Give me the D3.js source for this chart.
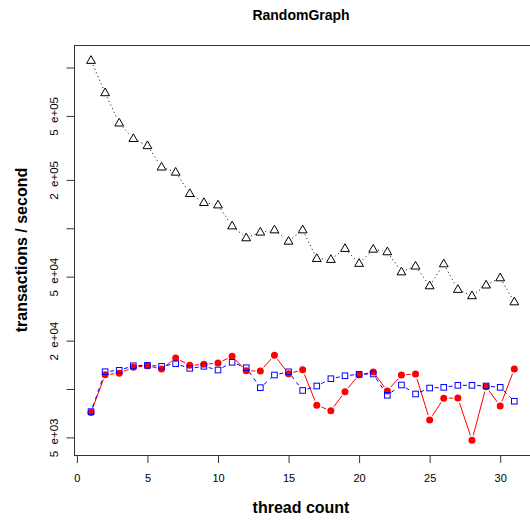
<!DOCTYPE html>
<html>
<head>
<meta charset="utf-8">
<script src="https://cdn.jsdelivr.net/npm/d3@7"></script>
<style>
  body { margin: 0; background: #fff; }
  text { font-family: "Liberation Sans", Arial, Helvetica, sans-serif; }
</style>
</head>
<body>
<div id="container"></div>
<script>
// thread counts and the three series (transactions / second)
const threads = d3.range(1, 32);
const seriesTri = [1106000, 696000, 451000, 361000, 326000, 240000, 223000, 164300, 144400, 139500,
  103300, 87100, 94500, 97600, 83000, 97600, 64800, 63900, 74800, 60400,
  74000, 71300, 53500, 58100, 43800, 60000, 41600, 38000, 44300, 49100, 34800];
const seriesRed = [7130, 12270, 12520, 13640, 13950, 13310, 15580, 14030, 14230, 14500,
  15970, 12990, 12930, 16200, 12450, 13160, 7920, 7330, 9620, 12270,
  12750, 9720, 12220, 12400, 6420, 8760, 8790, 4800, 10330, 7840, 13310];
const seriesBlue = [7230, 12810, 13070, 13950, 14030, 13840, 14360, 13450, 13840, 13120,
  14650, 13560, 10190, 12220, 12790, 9790, 10440, 11590, 12090, 12340,
  12400, 9140, 10590, 9310, 10140, 10240, 10540, 10540, 10440, 10240, 8390];

const xTicks = [0, 5, 10, 15, 20, 25, 30];
const yTicks = [5e3, 1e4, 2e4, 5e4, 1e5, 2e5, 5e5, 1e6];
const yLabels = {5e3: "5  e+03", 2e4: "2  e+04", 5e4: "5  e+04", 2e5: "2  e+05", 5e5: "5  e+05"};

const W = 530, H = 523;
const box = {left: 74.5, top: 45.5, right: 532, bottom: 455.5};

const svg = d3.select("#container")
  .append("svg")
    .attr("width", W)
    .attr("height", H);

const x = d3.scaleLinear().domain([0, 30]).range([76.9, 500.2]);
const y = d3.scaleLog().domain([1e4, 1e6]).range([389, 67.5]);

// plot box
svg.append("rect")
  .attr("x", box.left).attr("y", box.top)
  .attr("width", box.right - box.left).attr("height", box.bottom - box.top)
  .attr("fill", "none").attr("stroke", "#333");

// x axis
const xAxis = svg.append("g")
  .attr("transform", `translate(0,${box.bottom})`)
  .call(d3.axisBottom(x).tickValues(xTicks).tickSize(7.5).tickPadding(11).tickFormat(d3.format("d")));
xAxis.select(".domain").remove();
xAxis.selectAll("line").attr("stroke", "#333");
xAxis.selectAll("text").style("font-size", "11px").attr("fill", "#000");

// y axis
const yAxis = svg.append("g")
  .attr("transform", `translate(${box.left},0)`)
  .call(d3.axisLeft(y).tickValues(yTicks).tickSize(8).tickFormat(d => yLabels[d] || ""));
yAxis.select(".domain").remove();
yAxis.selectAll("line").attr("stroke", "#333");
yAxis.selectAll("text")
  .style("font-size", "11.5px")
  .style("white-space", "pre")
  .attr("xml:space", "preserve")
  .attr("fill", "#000")
  .attr("x", null).attr("dy", null)
  .attr("text-anchor", "middle")
  .attr("transform", "translate(-17,0) rotate(-90)");

// titles
svg.append("text")
  .attr("x", 301).attr("y", 20)
  .attr("text-anchor", "middle")
  .style("font-size", "14px").style("font-weight", "bold")
  .text("RandomGraph");

svg.append("text")
  .attr("x", 301).attr("y", 513)
  .attr("text-anchor", "middle")
  .style("font-size", "16px").style("font-weight", "bold")
  .text("thread count");

svg.append("text")
  .attr("transform", "translate(27,250) rotate(-90)")
  .attr("text-anchor", "middle")
  .style("font-size", "16px").style("font-weight", "bold")
  .text("transactions / second");

// lines with gaps around points (like type = "b")
function gappedLines(vals, color, dash) {
  const pts = vals.map((v, i) => [x(threads[i]), y(v)]);
  const segs = [];
  const gap = 5;
  for (let i = 0; i < pts.length - 1; i++) {
    const [x0, y0] = pts[i], [x1, y1] = pts[i + 1];
    const len = Math.hypot(x1 - x0, y1 - y0);
    if (len <= 2 * gap) continue;
    const ux = (x1 - x0) / len, uy = (y1 - y0) / len;
    segs.push([[x0 + ux * gap, y0 + uy * gap], [x1 - ux * gap, y1 - uy * gap]]);
  }
  svg.append("g").selectAll("line")
    .data(segs)
    .join("line")
      .attr("x1", d => d[0][0]).attr("y1", d => d[0][1])
      .attr("x2", d => d[1][0]).attr("y2", d => d[1][1])
      .attr("stroke", color)
      .attr("stroke-width", 1)
      .attr("stroke-dasharray", dash);
}

gappedLines(seriesTri, "#000", "1,3");
gappedLines(seriesRed, "#ff0000", null);
gappedLines(seriesBlue, "#0000ff", "4,4");

// triangles
svg.append("g").selectAll("path")
  .data(seriesTri)
  .join("path")
    .attr("d", (d, i) => {
      const cx = x(threads[i]), cy = y(d);
      return `M${cx},${cy - 4.8}L${cx + 4.4},${cy + 2.9}L${cx - 4.4},${cy + 2.9}Z`;
    })
    .attr("fill", "none")
    .attr("stroke", "#000")
    .attr("stroke-width", 1);

// red dots
svg.append("g").selectAll("circle")
  .data(seriesRed)
  .join("circle")
    .attr("cx", (d, i) => x(threads[i]))
    .attr("cy", d => y(d))
    .attr("r", 3.5)
    .attr("fill", "#ff0000");

// blue squares
svg.append("g").selectAll("rect")
  .data(seriesBlue)
  .join("rect")
    .attr("x", (d, i) => x(threads[i]) - 2.8)
    .attr("y", d => y(d) - 2.8)
    .attr("width", 5.6)
    .attr("height", 5.6)
    .attr("fill", "none")
    .attr("stroke", "#0000ff")
    .attr("stroke-width", 1);
</script>
</body>
</html>
